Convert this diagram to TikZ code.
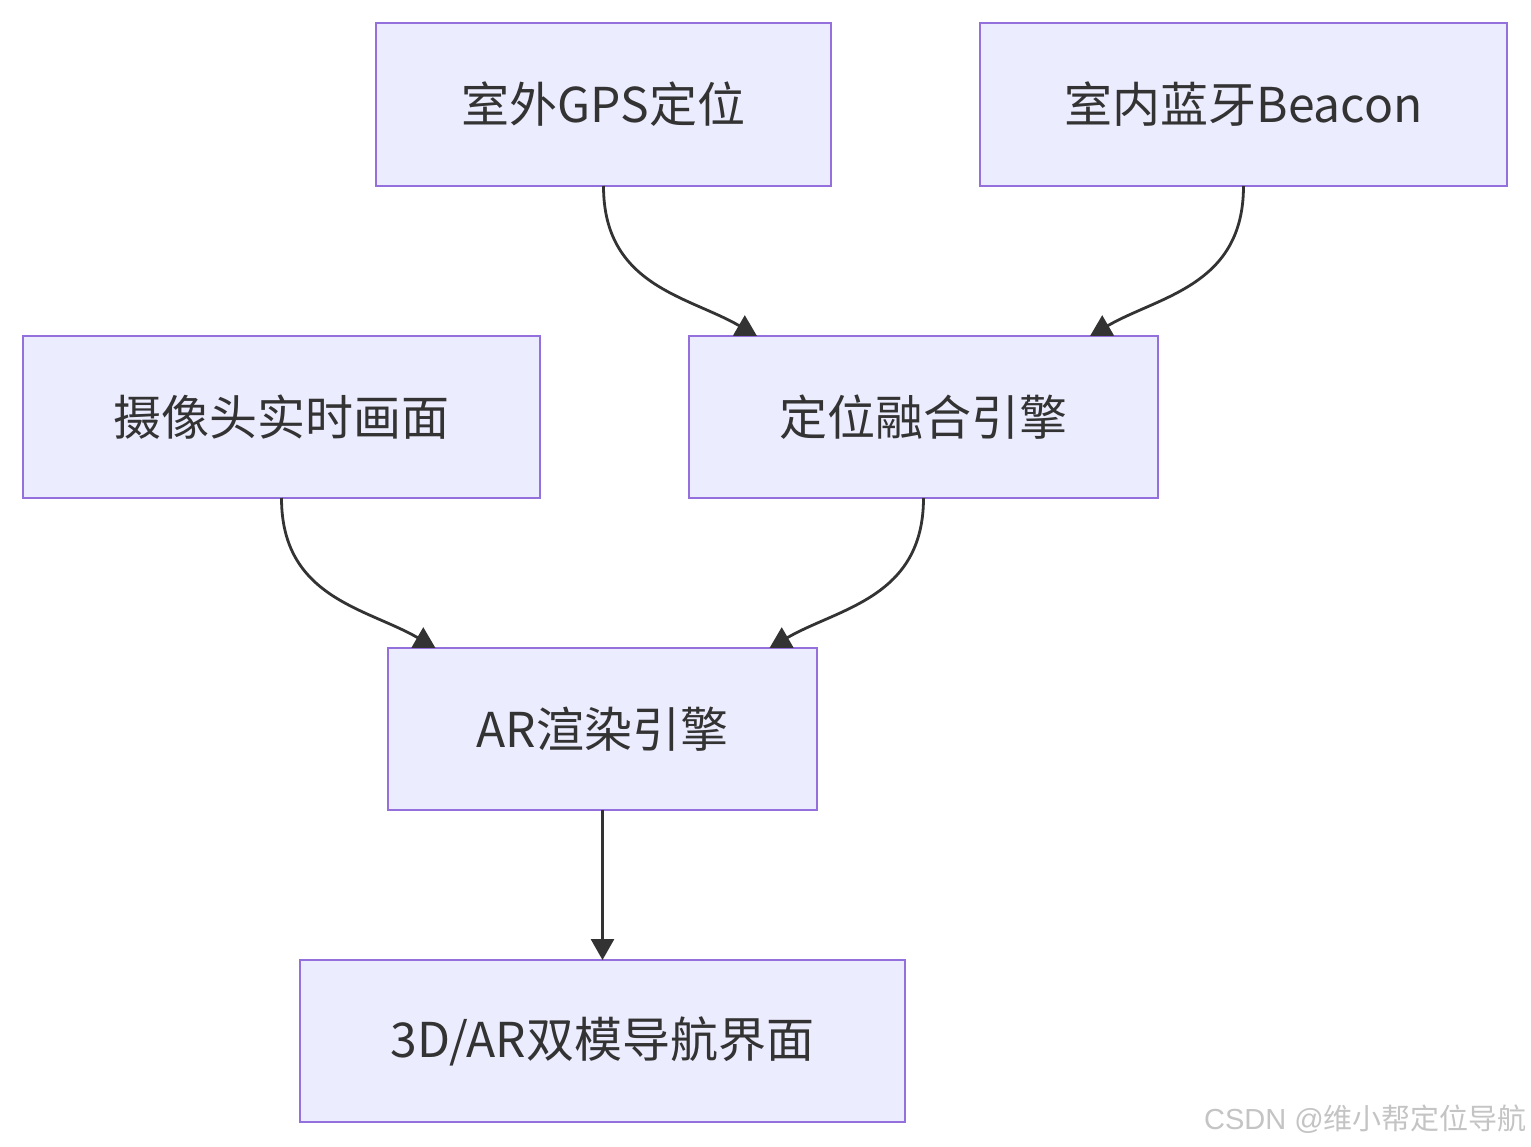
\documentclass[tikz,border=0pt]{standalone}
\usepackage{fontspec}
\setmainfont{Noto Sans CJK SC}
\newfontfamily\wmlat{Liberation Sans}
\usetikzlibrary{arrows.meta}
\definecolor{boxfill}{HTML}{ECECFF}
\definecolor{boxline}{HTML}{9370DB}
\definecolor{edgecol}{HTML}{333333}
\definecolor{txtcol}{HTML}{333333}
\definecolor{wmcol}{HTML}{C4C4C4}
\tikzset{
  box/.style={draw=boxline, fill=boxfill, line width=2.6pt, rectangle,
    inner sep=0pt, outer sep=0pt, text=txtcol, font=\fontsize{48}{56}\selectfont},
  edge/.style={draw=edgecol, line width=2.8pt,
    -{Triangle[length=21pt,width=23pt]}},
}
\begin{document}
\begin{tikzpicture}[x=1pt,y=-1pt]
\useasboundingbox[fill=white] (0,0) rectangle (1531,1146);
\node[box, minimum width=455pt, minimum height=163pt] (gps) at (603.5,104.5) {室外GPS定位};
\node[box, minimum width=527pt, minimum height=163pt] (bea) at (1243.5,104.5) {室内蓝牙Beacon};
\node[box, minimum width=517pt, minimum height=162pt] (cam) at (281.5,417) {摄像头实时画面};
\node[box, minimum width=469pt, minimum height=162pt] (fus) at (923.5,417) {定位融合引擎};
\node[box, minimum width=429pt, minimum height=162pt] (ar) at (602.5,729) {AR渲染引擎};
\node[box, minimum width=605pt, minimum height=162pt] (nav) at (602.5,1041) {3D/AR双模导航界面};
\draw[edge] (gps.south) .. controls +(0,100) and +(-69,-40) .. ([xshift=-166.5pt]fus.north);
\draw[edge] (bea.south) .. controls +(0,100) and +(69,-40) .. ([xshift=166.5pt]fus.north);
\draw[edge] (cam.south) .. controls +(0,100) and +(-69,-40) .. ([xshift=-167pt]ar.north);
\draw[edge] (fus.south) .. controls +(0,100) and +(69,-40) .. ([xshift=167pt]ar.north);
\draw[edge] (ar.south) -- (nav.north);
\node[anchor=east, text=wmcol, inner sep=0pt, font=\fontsize{29}{34}\selectfont] (wm) at (1527,1119) {{\wmlat CSDN @}维小帮定位导航};
\end{tikzpicture}
\end{document}
